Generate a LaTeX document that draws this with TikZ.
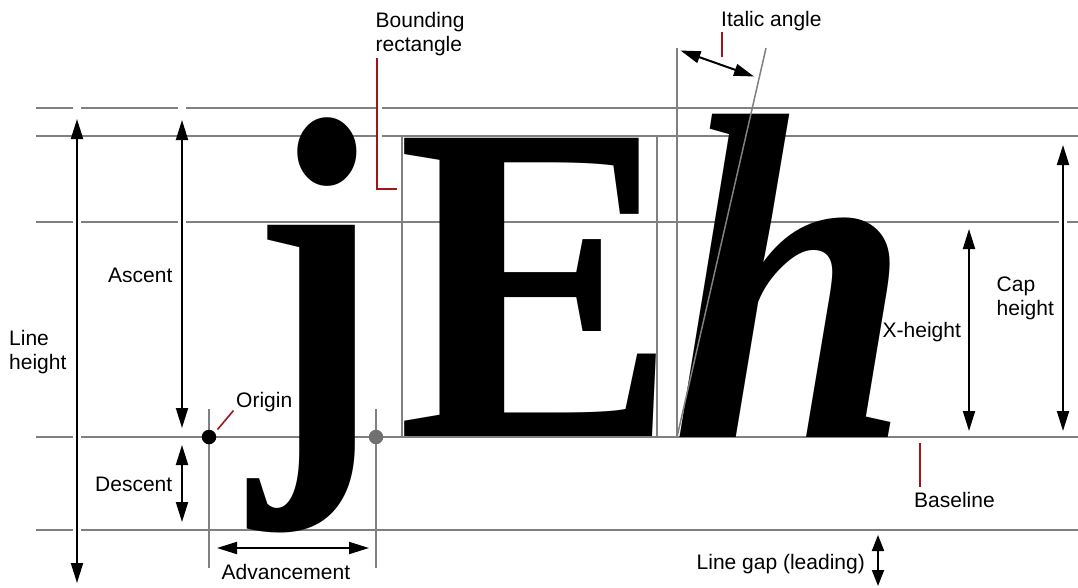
\documentclass[tikz,border=0pt]{standalone}
\usepackage{fontspec}
\usepackage{graphicx}
\setmainfont{Liberation Sans}
\newfontfamily\glyphfont{Liberation Serif}
\usetikzlibrary{arrows.meta}
\definecolor{guidegray}{RGB}{128,128,128}
\definecolor{dotgray}{RGB}{112,112,112}
\definecolor{markred}{RGB}{165,20,20}
\begin{document}
\begin{tikzpicture}[x=1pt,y=-1pt,
  guide/.style={draw=guidegray, line width=1.5pt},
  dim/.style={draw=black, line width=2pt, {Triangle[length=20pt,width=12pt]}-{Triangle[length=20pt,width=12pt]}},
  halo/.style={draw=white, line width=8pt},
  pointer/.style={draw=markred, line width=1.6pt},
  lbl/.style={inner sep=0, anchor=base west, font=\fontsize{21}{23.5}\selectfont},
  glyph/.style={inner sep=0, anchor=base west}]
\useasboundingbox[fill=white] (0,0) rectangle (1078,587);

% guide lines
\draw[guide] (36,108) -- (1078,108);
\draw[guide] (36,136) -- (1078,136);
\draw[guide] (36,222) -- (1078,222);
\draw[guide] (36,437) -- (1078,437);
\draw[guide] (36,530) -- (1078,530);

% halos where arrows / pointer cross guides
\draw[halo] (77,100) -- (77,590);
\draw[halo] (182,100) -- (182,428);
\draw[halo] (1063,150) -- (1063,428);
\draw[halo, line width=6pt] (378.5,100) -- (378.5,145);

% glyphs
\node[glyph] (gj) at (250,435) {\scalebox{0.86}[1]{\glyphfont\bfseries\fontsize{458}{458}\selectfont j}};
\node[glyph] (gE) at (397,437) {\scalebox{0.92}[1]{\glyphfont\bfseries\fontsize{457}{457}\selectfont E}};
\node[glyph] (gh) at (671,437) {\scalebox{0.93}[1]{\glyphfont\bfseries\itshape\fontsize{466}{466}\selectfont h}};

% bounding rectangle and italic guides
\draw[guide] (402,136) rectangle (657,437);
\draw[guide] (677,48) -- (677,437);
\draw[guide] (766,48) -- (677,437);

% advancement ticks and dots
\draw[guide] (209,409) -- (209,568);
\draw[guide] (376,409) -- (376,568);
\node[circle, fill=black, inner sep=0, minimum size=14.5pt] (origin) at (209,437) {};
\node[circle, fill=dotgray, inner sep=0, minimum size=14.5pt] (advdot) at (376,437) {};

% dimension arrows
\coordinate (lhT) at (77,119); \coordinate (lhB) at (77,583);
\draw[dim] (lhT) -- (lhB);
\coordinate (asT) at (182,120); \coordinate (asB) at (182,428);
\draw[dim] (asT) -- (asB);
\coordinate (deT) at (182,445); \coordinate (deB) at (182,522);
\draw[dim] (deT) -- (deB);
\coordinate (adL) at (217,548); \coordinate (adR) at (369,548);
\draw[dim] (adL) -- (adR);
\coordinate (xhT) at (969,229); \coordinate (xhB) at (969,431);
\draw[dim] (xhT) -- (xhB);
\coordinate (chT) at (1063,145); \coordinate (chB) at (1063,431);
\draw[dim] (chT) -- (chB);
\coordinate (lgT) at (878,535); \coordinate (lgB) at (878,586);
\draw[dim, {Triangle[length=16pt,width=12pt]}-{Triangle[length=16pt,width=12pt]}] (lgT) -- (lgB);
\coordinate (iaL) at (680.5,50.5); \coordinate (iaR) at (754,76.5);
\draw[dim] (iaL) -- (iaR);

% red pointers
\coordinate (brT) at (377,58); \coordinate (brC) at (377,189); \coordinate (brE) at (397,189);
\draw[pointer] (brT) -- (brC) -- (brE);
\coordinate (orA) at (217.5,429.5); \coordinate (orB) at (233.5,410.5);
\draw[pointer] (orA) -- (orB);
\coordinate (iaT) at (722,32); \coordinate (iaB) at (722,57);
\draw[pointer] (iaT) -- (iaB);
\coordinate (blT) at (920,443); \coordinate (blB) at (920,487);
\draw[pointer] (blT) -- (blB);

% labels
\node[lbl] (lLine) at (9,345) {Line};
\node[lbl] (lHeight) at (9,369) {height};
\node[lbl] (lAscent) at (108,282) {Ascent};
\node[lbl] (lDescent) at (95,491) {Descent};
\node[lbl] (lOrigin) at (236,407.5) {Origin};
\node[lbl] (lAdv) at (221.5,579) {Advancement};
\node[lbl] (lBound) at (375.5,27.5) {Bounding};
\node[lbl] (lRect) at (375.5,51) {rectangle};
\node[lbl] (lItalic) at (721,26.5) {Italic angle};
\node[lbl] (lXh) at (882.5,337.5) {X-height};
\node[lbl] (lCap) at (996.5,291.5) {Cap};
\node[lbl] (lCapH) at (996.5,315) {height};
\node[lbl] (lBase) at (914,507.5) {Baseline};
\node[lbl] (lGap) at (696.5,569.5) {Line gap (leading)};
\end{tikzpicture}
\end{document}
